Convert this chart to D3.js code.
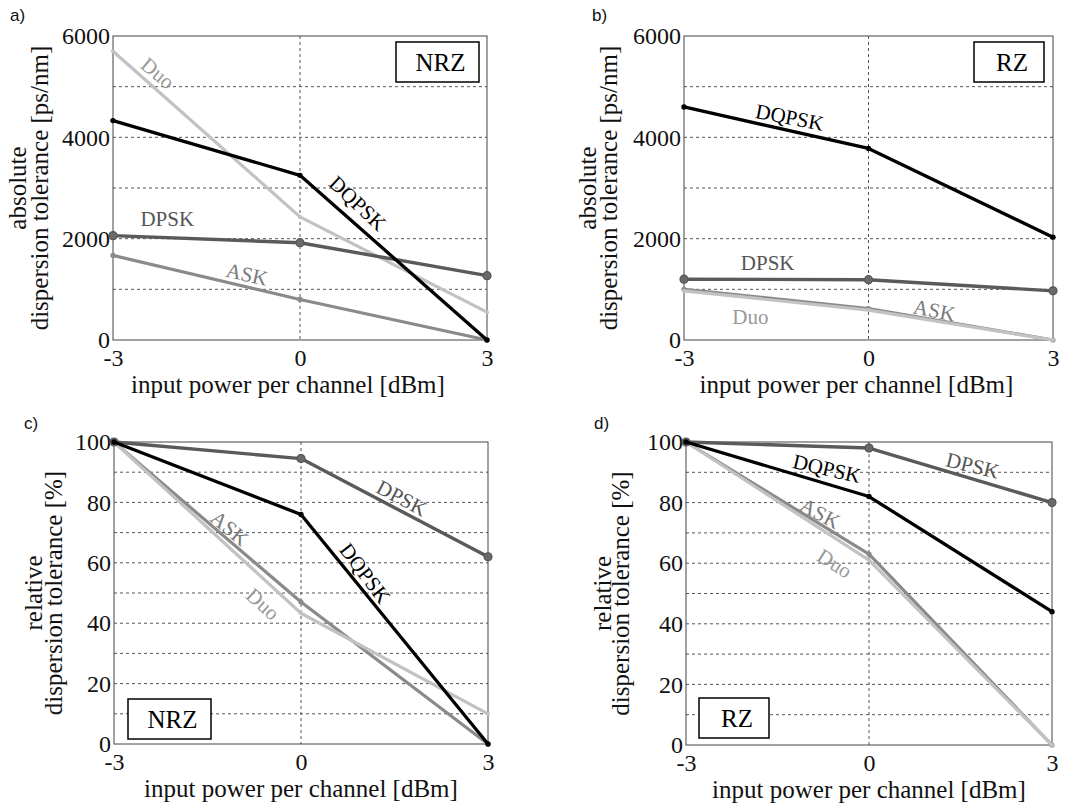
<!DOCTYPE html>
<html>
<head>
    <meta charset="utf-8">
    <title>Dispersion tolerance vs input power</title>
    <script src="https://d3js.org/d3.v7.min.js"></script>
    <style>
        body { margin: 0; background: white; }
        svg { display: block; }
    </style>
</head>
<body>
    <div id="chart"></div>
    <script>
        // x values (input power per channel, dBm)
        var powers = [-3, 0, 3];

        // a) absolute tolerance, NRZ [ps/nm]
        var absNrzDqpsk = [4330, 3250, 0];
        var absNrzDpsk  = [2060, 1920, 1270];
        var absNrzAsk   = [1670, 800, 0];
        var absNrzDuo   = [5700, 2430, 550];

        // b) absolute tolerance, RZ [ps/nm]
        var absRzDqpsk = [4600, 3780, 2030];
        var absRzDpsk  = [1200, 1190, 970];
        var absRzAsk   = [1000, 620, 0];
        var absRzDuo   = [970, 590, 0];

        // c) relative tolerance, NRZ [%]
        var relNrzDqpsk = [100, 76, 0];
        var relNrzDpsk  = [100, 94.5, 62];
        var relNrzAsk   = [100, 47, 0];
        var relNrzDuo   = [100, 43.3, 10];

        // d) relative tolerance, RZ [%]
        var relRzDqpsk = [100, 82, 44];
        var relRzDpsk  = [100, 98, 80];
        var relRzAsk   = [100, 63, 0];
        var relRzDuo   = [100, 61, 0];

        var absTicks = [0, 2000, 4000, 6000];
        var relTicks = [0, 20, 40, 60, 80, 100];

        var styles = {
            DQPSK: {line: "#000000", width: 3.3, dot: 2.7, fill: "#000000", stroke: "none", text: "#000000"},
            DPSK:  {line: "#5a5a5a", width: 3.4, dot: 4,   fill: "#6a6a6a", stroke: "#555", text: "#555555"},
            ASK:   {line: "#8a8a8a", width: 3.2, dot: 2.6, fill: "#8a8a8a", stroke: "none", text: "#7a7a7a"},
            Duo:   {line: "#c2c2c2", width: 3.2, dot: 2,   fill: "#c2c2c2", stroke: "none", text: "#999999"}
        };
        var drawOrder = ["ASK", "Duo", "DPSK", "DQPSK"];

        var panels = [
            {letter: "a)", lx: 10, ly: 21, left: 113, right: 487, top: 36, bottom: 340,
             yMax: 6000, yStep: 1000, ticks: absTicks, line1: "absolute", line2: "dispersion tolerance [ps/nm]",
             yl1: -96, yl2: -74, xlShift: -12,
             series: {DQPSK: absNrzDqpsk, DPSK: absNrzDpsk, ASK: absNrzAsk, Duo: absNrzDuo},
             labels: [["Duo", -2.28, 5270, 40], ["DQPSK", 0.93, 2700, 43], ["DPSK", -2.13, 2400, 0], ["ASK", -0.85, 1300, 13]],
             box: {text: "NRZ", x: 396, y: 42, w: 83, h: 40}},
            {letter: "b)", lx: 592, ly: 21, left: 684, right: 1053, top: 36, bottom: 340,
             yMax: 6000, yStep: 1000, ticks: absTicks, line1: "absolute", line2: "dispersion tolerance [ps/nm]",
             yl1: -97, yl2: -76, xlShift: -12,
             series: {DQPSK: absRzDqpsk, DPSK: absRzDpsk, ASK: absRzAsk, Duo: absRzDuo},
             labels: [["DQPSK", -1.28, 4400, 11], ["DPSK", -1.64, 1520, 0], ["ASK", 1.07, 590, 11], ["Duo", -1.92, 470, 0]],
             box: {text: "RZ", x: 974, y: 42, w: 70, h: 40}},
            {letter: "c)", lx: 24, ly: 429, left: 114, right: 488, top: 442, bottom: 744,
             yMax: 100, yStep: 10, ticks: relTicks, line1: "relative", line2: "dispersion tolerance [%]",
             yl1: -81, yl2: -61, xlShift: 0,
             series: {DQPSK: relNrzDqpsk, DPSK: relNrzDpsk, ASK: relNrzAsk, Duo: relNrzDuo},
             labels: [["DPSK", 1.62, 81.5, 28], ["DQPSK", 1.03, 56.6, 53], ["ASK", -1.14, 71.5, 40], ["Duo", -0.61, 46.4, 42]],
             box: {text: "NRZ", x: 128, y: 699, w: 83, h: 40}},
            {letter: "d)", lx: 594, ly: 429, left: 686, right: 1052, top: 442, bottom: 745,
             yMax: 100, yStep: 10, ticks: relTicks, line1: "relative", line2: "dispersion tolerance [%]",
             yl1: -84, yl2: -66, xlShift: 0,
             series: {DQPSK: relRzDqpsk, DPSK: relRzDpsk, ASK: relRzAsk, Duo: relRzDuo},
             labels: [["DQPSK", -0.69, 91.3, 13], ["DPSK", 1.7, 92.3, 14], ["ASK", -0.8, 76.5, 28], ["Duo", -0.56, 60, 32]],
             box: {text: "RZ", x: 699, y: 698, w: 70, h: 40}}
        ];

        var serif = "'Liberation Serif', 'Times New Roman', serif";
        var plain = function(d) { return String(d); };

        var svg = d3.select("#chart")
            .append("svg")
                .attr("width", 1084)
                .attr("height", 805);

        panels.forEach(function(p) {
            var x = d3.scaleLinear().domain([-3, 3]).range([p.left, p.right]);
            var y = d3.scaleLinear().domain([0, p.yMax]).range([p.bottom, p.top]);
            var g = svg.append("g");

            // dashed grid
            g.selectAll(".hgrid")
                .data(d3.range(p.yStep, p.yMax, p.yStep))
                .enter().append("line")
                    .attr("x1", p.left).attr("x2", p.right)
                    .attr("y1", function(d) { return y(d); })
                    .attr("y2", function(d) { return y(d); })
                    .attr("stroke", "#555")
                    .attr("stroke-width", 1)
                    .attr("stroke-dasharray", "3,3");
            g.append("line")
                .attr("x1", x(0)).attr("x2", x(0))
                .attr("y1", p.top).attr("y2", p.bottom)
                .attr("stroke", "#555")
                .attr("stroke-width", 1)
                .attr("stroke-dasharray", "3,3");

            // frame
            g.append("rect")
                .attr("x", p.left).attr("y", p.top)
                .attr("width", p.right - p.left).attr("height", p.bottom - p.top)
                .attr("fill", "none")
                .attr("stroke", "#444")
                .attr("stroke-width", 1);

            // tick labels
            var yAxis = d3.axisLeft(y).tickValues(p.ticks).tickSize(0).tickPadding(3).tickFormat(plain);
            g.append("g")
                .attr("transform", "translate(" + p.left + ",0)")
                .call(yAxis)
                .call(function(a) { a.select(".domain").remove(); })
                .selectAll("text")
                    .style("font-family", serif)
                    .style("font-size", "24px")
                    .attr("fill", "#111");
            var xAxis = d3.axisBottom(x).tickValues(powers).tickSize(0).tickPadding(9).tickFormat(plain);
            g.append("g")
                .attr("transform", "translate(0," + p.bottom + ")")
                .call(xAxis)
                .call(function(a) { a.select(".domain").remove(); })
                .selectAll("text")
                    .style("font-family", serif)
                    .style("font-size", "24px")
                    .attr("fill", "#111");

            // axis titles
            g.append("text")
                .attr("x", (p.left + p.right) / 2 + p.xlShift)
                .attr("y", p.bottom + 53)
                .attr("text-anchor", "middle")
                .style("font-family", serif)
                .style("font-size", "25px")
                .attr("fill", "#111")
                .text("input power per channel [dBm]");
            var yc = (p.top + p.bottom) / 2;
            [[p.line1, p.yl1], [p.line2, p.yl2]].forEach(function(l) {
                g.append("text")
                    .attr("transform", "translate(" + (p.left + l[1]) + "," + yc + ") rotate(-90)")
                    .attr("text-anchor", "middle")
                    .attr("dy", "0.35em")
                    .style("font-family", serif)
                    .style("font-size", "25px")
                    .attr("fill", "#111")
                    .text(l[0]);
            });

            // panel letter
            g.append("text")
                .attr("x", p.lx).attr("y", p.ly)
                .style("font-family", "'Liberation Sans', Arial, sans-serif")
                .style("font-size", "17px")
                .attr("fill", "#111")
                .text(p.letter);

            // series
            var line = d3.line()
                .x(function(d, i) { return x(powers[i]); })
                .y(function(d) { return y(d); });
            drawOrder.forEach(function(name) {
                var s = styles[name];
                var vals = p.series[name];
                g.append("path")
                    .datum(vals)
                    .attr("d", line)
                    .attr("fill", "none")
                    .attr("stroke", s.line)
                    .attr("stroke-width", s.width)
                    .attr("stroke-linejoin", "round");
                g.selectAll(".m" + name)
                    .data(vals)
                    .enter().append("circle")
                        .attr("cx", function(d, i) { return x(powers[i]); })
                        .attr("cy", function(d) { return y(d); })
                        .attr("r", s.dot)
                        .attr("fill", s.fill)
                        .attr("stroke", s.stroke)
                        .attr("stroke-width", 1.2);
            });

            // series labels along the lines
            p.labels.forEach(function(l) {
                g.append("text")
                    .attr("transform", "translate(" + x(l[1]) + "," + y(l[2]) + ") rotate(" + l[3] + ")")
                    .attr("text-anchor", "middle")
                    .attr("dy", "0.35em")
                    .style("font-family", serif)
                    .style("font-size", "21px")
                    .attr("fill", styles[l[0]].text)
                    .text(l[0]);
            });

            // NRZ / RZ box
            g.append("rect")
                .attr("x", p.box.x).attr("y", p.box.y)
                .attr("width", p.box.w).attr("height", p.box.h)
                .attr("fill", "white")
                .attr("stroke", "#000")
                .attr("stroke-width", 1.5);
            g.append("text")
                .attr("x", p.box.x + p.box.w / 2 + 3)
                .attr("y", p.box.y + p.box.h / 2)
                .attr("dy", "0.35em")
                .attr("text-anchor", "middle")
                .style("font-family", serif)
                .style("font-size", "25px")
                .attr("fill", "#000")
                .text(p.box.text);
        });
    </script>
</body>
</html>
